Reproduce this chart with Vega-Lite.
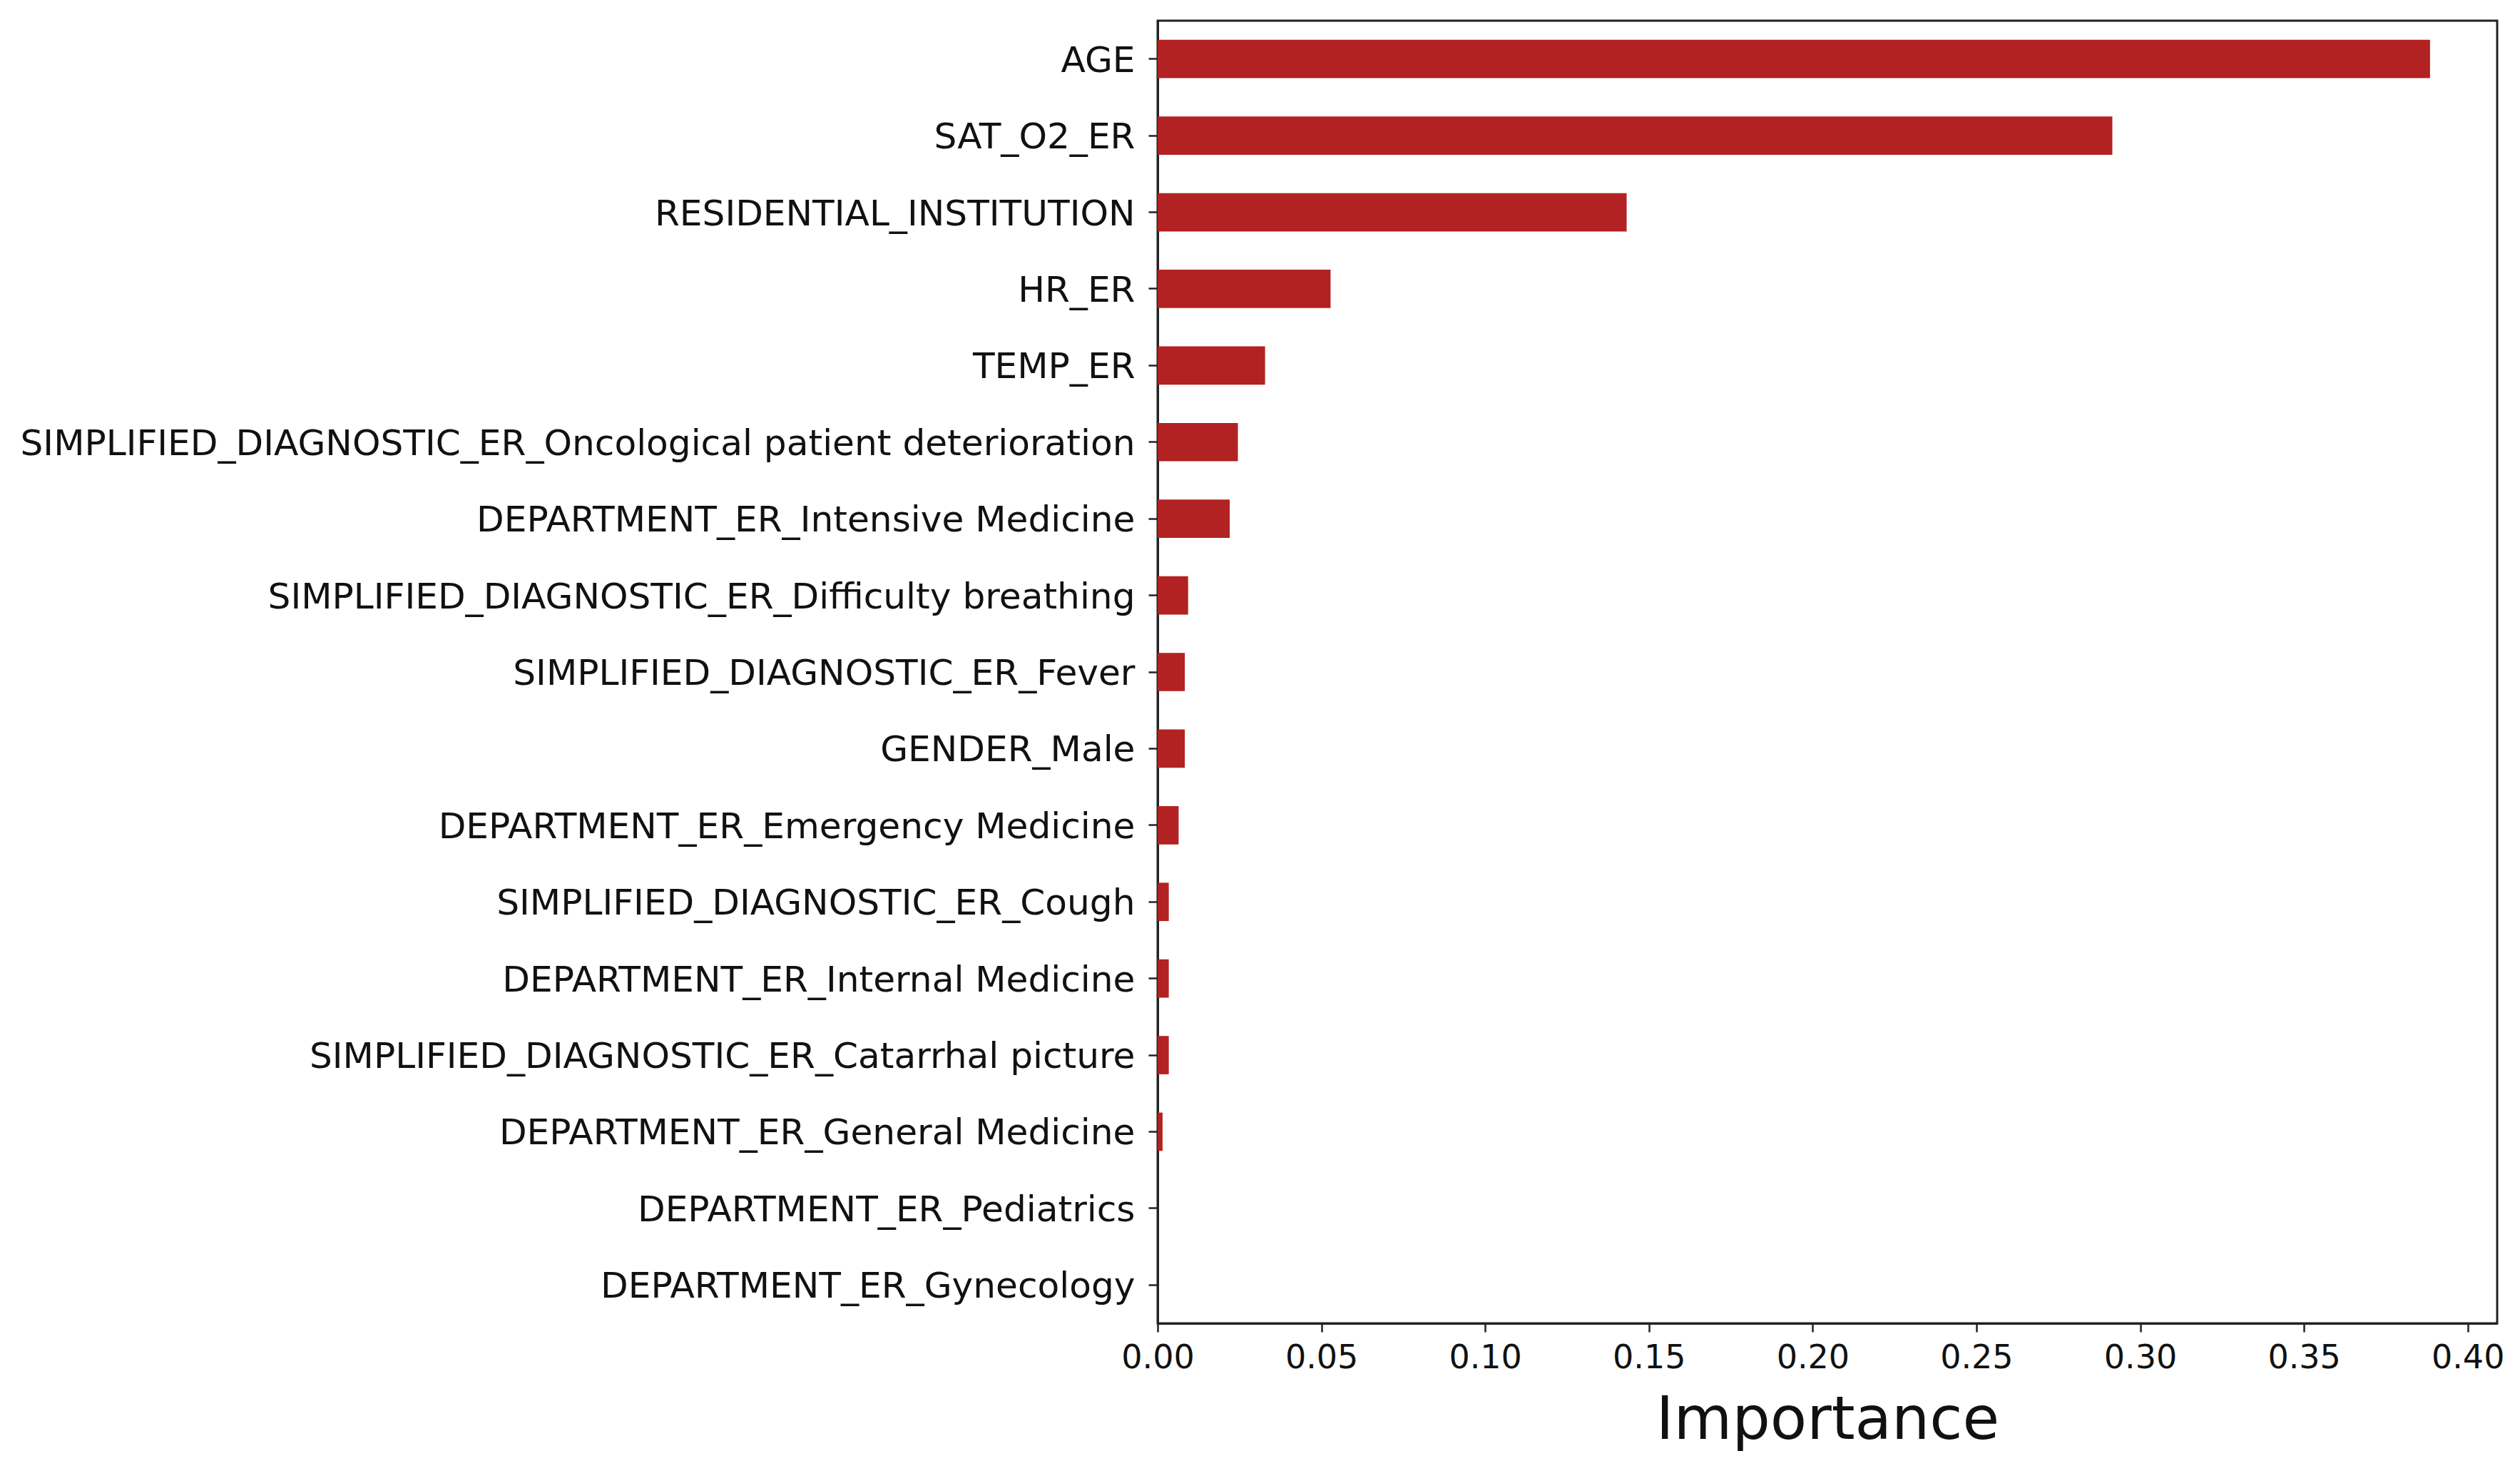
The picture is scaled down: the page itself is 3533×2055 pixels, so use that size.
{
  "$schema": "https://vega.github.io/schema/vega-lite/v6.json",
  "autosize": {"type": "none"},
  "width": 1878,
  "height": 1826,
  "padding": {"left": 1623, "top": 29, "right": 32, "bottom": 200},
  "background": "white",
  "config": {
    "font": "DejaVu Sans",
    "view": {"stroke": "#222222", "strokeWidth": 3},
    "axis": {"grid": false, "domainColor": "#222222", "domainWidth": 3, "tickColor": "#222222", "tickWidth": 2.5, "tickSize": 12, "labelColor": "#111111", "labelFont": "DejaVu Sans", "labelFontSize": 46, "labelLimit": 3000, "titleFont": "DejaVu Sans", "titleColor": "#111111"}
  },
  "data": {
    "values": [
      {"feature": "AGE", "importance": 0.3885},
      {"feature": "SAT_O2_ER", "importance": 0.2915},
      {"feature": "RESIDENTIAL_INSTITUTION", "importance": 0.1432},
      {"feature": "HR_ER", "importance": 0.0528},
      {"feature": "TEMP_ER", "importance": 0.0328},
      {"feature": "SIMPLIFIED_DIAGNOSTIC_ER_Oncological patient deterioration", "importance": 0.0245},
      {"feature": "DEPARTMENT_ER_Intensive Medicine", "importance": 0.022},
      {"feature": "SIMPLIFIED_DIAGNOSTIC_ER_Difficulty breathing", "importance": 0.0093},
      {"feature": "SIMPLIFIED_DIAGNOSTIC_ER_Fever", "importance": 0.0083},
      {"feature": "GENDER_Male", "importance": 0.0083},
      {"feature": "DEPARTMENT_ER_Emergency Medicine", "importance": 0.0064},
      {"feature": "SIMPLIFIED_DIAGNOSTIC_ER_Cough", "importance": 0.0034},
      {"feature": "DEPARTMENT_ER_Internal Medicine", "importance": 0.0034},
      {"feature": "SIMPLIFIED_DIAGNOSTIC_ER_Catarrhal picture", "importance": 0.0034},
      {"feature": "DEPARTMENT_ER_General Medicine", "importance": 0.0015},
      {"feature": "DEPARTMENT_ER_Pediatrics", "importance": 0.0},
      {"feature": "DEPARTMENT_ER_Gynecology", "importance": 0.0}
    ]
  },
  "mark": {"type": "bar", "color": "#B22222"},
  "encoding": {
    "y": {
      "field": "feature",
      "type": "nominal",
      "sort": null,
      "scale": {"paddingInner": 0.5, "paddingOuter": 0.25},
      "axis": {"title": null, "labelPadding": 19, "labelFontSize": 50.2, "labelBaseline": "middle", "labelOffset": 3, "tickSize": 13, "domain": true}
    },
    "x": {
      "field": "importance",
      "type": "quantitative",
      "scale": {"domain": [0, 0.409], "nice": false, "zero": true},
      "axis": {"title": "Importance", "titleFontSize": 84, "titleFontWeight": "normal", "titlePadding": 24, "values": [0, 0.05, 0.1, 0.15, 0.2, 0.25, 0.3, 0.35, 0.4], "format": ".2f", "labelPadding": 14, "labelFlush": false}
    }
  }
}
